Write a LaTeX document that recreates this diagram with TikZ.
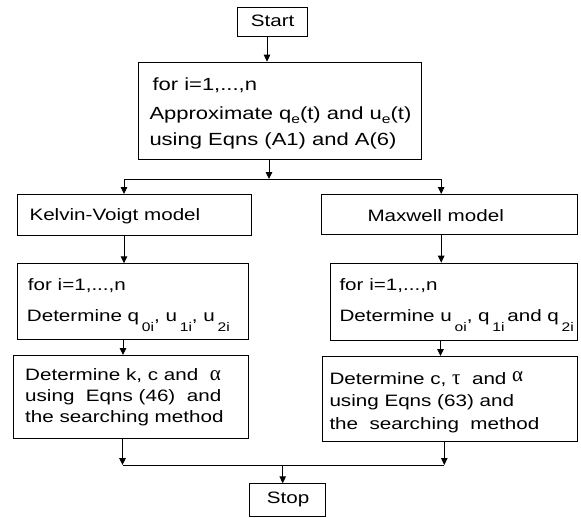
\documentclass[tikz,border=0pt]{standalone}
\usepackage{fontspec}
\setmainfont{Liberation Sans}[FakeStretch=1.25]
\newfontfamily\grkfont{Liberation Serif}
\newcommand\grk[1]{{\grkfont\fontsize{21}{20}\selectfont #1}}
\usetikzlibrary{arrows.meta}
\newcommand\lsub[2]{\raisebox{-#1}{\fontsize{12.5}{12.5}\selectfont #2}}
\begin{document}
\begin{tikzpicture}[x=1pt,y=-1pt,
  box/.style={draw, line width=1pt, rectangle, inner sep=0pt, anchor=north west},
  txt/.style={anchor=base west, inner sep=0pt, font=\fontsize{16.5}{20}\selectfont},
  bigtxt/.style={txt, font=\fontsize{17.6}{20}\selectfont},
  arr/.style={line width=0.9pt, -{Triangle[length=7pt,width=6.5pt]}},
  ln/.style={line width=0.9pt}]
\useasboundingbox (0,0) rectangle (581,517);
% boxes
\node[box, minimum width=70.6pt, minimum height=28.7pt] (start) at (236.7,7.3) {};
\node[box, minimum width=283pt, minimum height=97.6pt] (top) at (137.7,61.7) {};
\node[box, minimum width=233.4pt, minimum height=41pt] (kv) at (17.3,194) {};
\node[box, minimum width=256.6pt, minimum height=39.7pt] (mx) at (320.7,194) {};
\node[box, minimum width=231.6pt, minimum height=76pt] (kv2) at (16.7,263.3) {};
\node[box, minimum width=247.3pt, minimum height=77.3pt] (mx2) at (330,262.7) {};
\node[box, minimum width=235pt, minimum height=83pt] (kv3) at (13.3,355) {};
\node[box, minimum width=255.6pt, minimum height=84.7pt] (mx3) at (321.7,356) {};
\node[box, minimum width=75.7pt, minimum height=33pt] (stop) at (249.3,483.3) {};
% texts
\node[txt] (tstart) at (250.7,26.7) {Start};
\node[bigtxt] (ttop1) at (152.3,90.7) {for i=1,...,n};
\node[bigtxt] (ttop2) at (149.3,119.3) {Approximate q\lsub{4.5pt}{e}(t) and u\lsub{4.5pt}{e}(t)};
\node[bigtxt] (ttop3) at (149.3,145) {using Eqns (A1) and A(6)};
\node[txt] (tkv) at (29.3,220.7) {Kelvin-Voigt model};
\node[txt] (tmx) at (367.3,221) {Maxwell model};
\node[txt] (tkv21) at (27.7,290) {for i=1,...,n};
\node[txt] (tkv22) at (26.7,321.7) {Determine q\,\lsub{10pt}{0i}, u\,\lsub{10pt}{1i}, u\,\lsub{10pt}{2i}};
\node[txt] (tmx21) at (339.3,290) {for i=1,...,n};
\node[txt] (tmx22) at (339.3,321.7) {Determine u\,\lsub{10pt}{oi}, q\,\lsub{10pt}{1i}\,and q\,\lsub{10pt}{2i}};
\node[txt] (tkv31) at (25,380.7) {Determine k, c and\ \ \grk{α}};
\node[txt] (tkv32) at (25,401.3) {using\ \ Eqns (46)\ \ and};
\node[txt] (tkv33) at (25,422) {the searching method};
\node[txt] (tmx31) at (329.3,384.3) {Determine c, \grk{τ}\ \ and \raisebox{2.5pt}{\grk{α}}};
\node[txt] (tmx32) at (329.3,406.7) {using Eqns (63) and};
\node[txt] (tmx33) at (329.3,429) {the\ \ searching\ \ method};
\node[txt] (tstop) at (266.7,503.3) {Stop};
% connector coordinates
\coordinate (c1) at (267,0);
\coordinate (c2) at (269,0);
\coordinate (split) at (269,179);
\coordinate (cL) at (124,0);
\coordinate (cR) at (441.2,0);
\coordinate (cL2) at (123,0);
\coordinate (cR2) at (440.5,0);
\coordinate (cL3) at (122.5,0);
\coordinate (cR3) at (444.3,0);
\coordinate (merge) at (282.7,465);
% connectors
\draw[arr] (start.south -| c1) -- (top.north -| c1);
\draw[arr] (top.south -| c2) -- (split);
\draw[ln] (split -| cL) -- (split -| cR);
\draw[arr] (split -| cL) -- (kv.north -| cL);
\draw[arr] (split -| cR) -- (mx.north -| cR);
\draw[arr] (kv.south -| cL) -- (kv2.north -| cL);
\draw[arr] (mx.south -| cR) -- (mx2.north -| cR);
\draw[arr] (kv2.south -| cL2) -- (kv3.north -| cL2);
\draw[arr] (mx2.south -| cR2) -- (mx3.north -| cR2);
\draw[arr] (kv3.south -| cL3) -- (merge -| cL3);
\draw[arr] (mx3.south -| cR3) -- (merge -| cR3);
\draw[ln] (merge -| cL3) -- (merge -| cR3);
\draw[arr] (merge) -- (stop.north -| merge);
\end{tikzpicture}
\end{document}
